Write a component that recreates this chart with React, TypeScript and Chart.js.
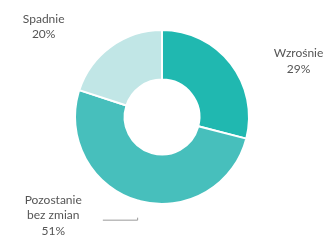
import React, { useEffect, useRef } from "react";
import { Chart, registerables } from "chart.js";

Chart.register(...registerables);

const categories = ["Wzrośnie", "Pozostanie bez zmian", "Spadnie"];
const values = [29, 51, 20];
const labelLines = [["Wzrośnie", "29%"], ["Pozostanie", "bez zmian", "51%"], ["Spadnie", "20%"]];
const colors = ["#20b8b0", "#47bfbc", "#c1e6e6"];

const labelPlugin = {
  id: "outerLabels",
  afterDraw(chart: any) {
    const ctx = chart.ctx;
    const meta = chart.getDatasetMeta(0);
    const arcs = meta.data;
    if (!arcs.length) return;
    const cx = arcs[0].x;
    const cy = arcs[0].y;
    const R = arcs[0].outerRadius;
    // label anchors relative to the doughnut centre, in units of radius
    const anchors = [
      [1.57, -0.64],
      [-1.25, 1.13],
      [-1.36, -1.04],
    ];
    ctx.save();
    ctx.font = "12px Lato, 'Open Sans', sans-serif";
    ctx.fillStyle = "#555555";
    ctx.textAlign = "center";
    ctx.textBaseline = "middle";
    const lh = 15.5;
    labelLines.forEach((lines, i) => {
      const ax = cx + anchors[i][0] * R;
      const ay = cy + anchors[i][1] * R;
      const startY = ay - ((lines.length - 1) * lh) / 2;
      lines.forEach((t, j) => ctx.fillText(t, ax, startY + j * lh));
    });
    // leader line for the middle category
    ctx.strokeStyle = "#9a9a9a";
    ctx.lineWidth = 1;
    ctx.beginPath();
    const lx = cx - 0.68 * R;
    const ly = cy + 1.18 * R;
    ctx.moveTo(lx, ly + 0.5);
    ctx.lineTo(lx + 0.4 * R, ly + 0.5);
    ctx.lineTo(lx + 0.4 * R, ly - 2);
    ctx.stroke();
    ctx.restore();
  },
};

export default function App() {
  const ref = useRef<HTMLCanvasElement>(null);
  useEffect(() => {
    if (!ref.current) return;
    const chart = new Chart(ref.current, {
      type: "doughnut",
      data: {
        labels: categories,
        datasets: [
          {
            data: values,
            backgroundColor: colors,
            borderColor: "#ffffff",
            borderWidth: 2,
          },
        ],
      },
      options: {
        responsive: false,
        animation: false,
        cutout: "43%",
        layout: { padding: { left: 74, right: 84, top: 29, bottom: 43 } },
        plugins: {
          legend: { display: false },
          tooltip: { enabled: false },
        },
      },
      plugins: [labelPlugin],
    });
    return () => chart.destroy();
  }, []);
  return (
    <div style={{ position: "fixed", left: 0, top: 0, width: 334, height: 248, background: "#fff" }}>
      <canvas ref={ref} width={334} height={248} style={{ width: 334, height: 248 }} />
    </div>
  );
}
